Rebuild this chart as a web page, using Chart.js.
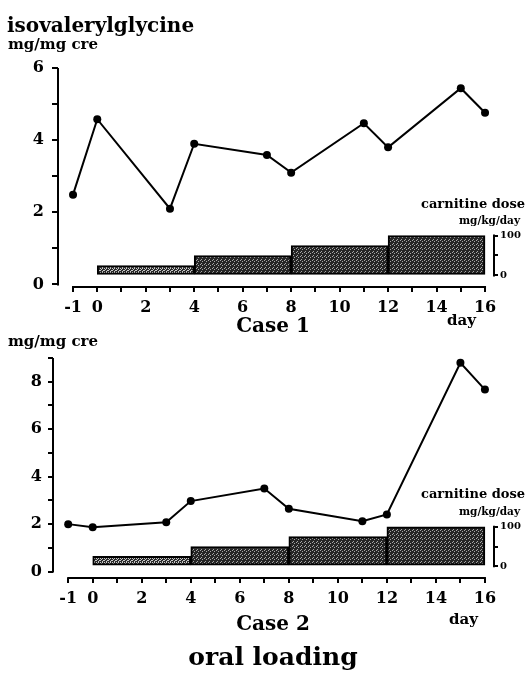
<!DOCTYPE html>
<html>
<head>
<meta charset="utf-8">
<script src="https://cdn.jsdelivr.net/npm/chart.js@4.4.1/dist/chart.umd.min.js"></script>
<style>
  body { margin: 0; background: #fff; }
  #page { position: relative; width: 528px; height: 680px; overflow: hidden; font-family: 'DejaVu Serif', serif; font-weight: bold; color: #000; }
  canvas { position: absolute; left: 0; }
  .t { position: absolute; line-height: 1; white-space: nowrap; }
  .c { transform: translateX(-50%); }
</style>
</head>
<body>
<div id="page">
  <canvas id="case1" width="528" height="330" style="top:0"></canvas>
  <canvas id="case2" width="528" height="350" style="top:330px"></canvas>

  <div class="t" style="left:7px; top:15px; font-size:20px">isovalerylglycine</div>
  <div class="t" style="left:8px; top:37px; font-size:15px">mg/mg cre</div>
  <div class="t" style="left:421px; top:197px; font-size:13px">carnitine dose</div>
  <div class="t" style="left:459px; top:215px; font-size:10.5px">mg/kg/day</div>
  <div class="t c" style="left:273px; top:315px; font-size:20px">Case 1</div>
  <div class="t" style="left:447px; top:313px; font-size:15px">day</div>

  <div class="t" style="left:8px; top:334px; font-size:15px">mg/mg cre</div>
  <div class="t" style="left:421px; top:487px; font-size:13px">carnitine dose</div>
  <div class="t" style="left:459px; top:506px; font-size:10.5px">mg/kg/day</div>
  <div class="t c" style="left:273px; top:613px; font-size:20px">Case 2</div>
  <div class="t" style="left:449px; top:612px; font-size:15px">day</div>

  <div class="t c" style="left:273px; top:644px; font-size:25px">oral loading</div>
</div>
<script>
// urine isovalerylglycine (mg/mg creatinine) by day
const days = [-1, 0, 3, 4, 7, 8, 11, 12, 15, 16];
const case1Ivg = [2.49, 4.58, 2.10, 3.90, 3.59, 3.10, 4.47, 3.80, 5.44, 4.76];
const case2Ivg = [2.00, 1.87, 2.08, 2.97, 3.50, 2.65, 2.12, 2.41, 8.80, 7.67];

// carnitine dose periods (mg/kg/day)
const doseStart = [0, 4, 8, 12];
const doseEnd = [4, 8, 12, 16];
const case1Dose = [25, 50, 75, 100];
const case2Dose = [25, 50, 75, 100];

const dayTicks = [-1, 0, 1, 2, 3, 4, 5, 6, 7, 8, 9, 10, 11, 12, 13, 14, 15, 16];
const dayLabels = [-1, 0, 2, 4, 6, 8, 10, 12, 14, 16];
const doseTicks = [0, 50, 100];
const doseLabels = [0, 100];

Chart.defaults.font.family = "'DejaVu Serif', serif";
Chart.defaults.font.weight = 'bold';
Chart.defaults.color = '#000';

function stipple(dark, light, spots) {
    const c = document.createElement('canvas');
    c.width = 4; c.height = 4;
    const g = c.getContext('2d');
    g.fillStyle = dark;
    g.fillRect(0, 0, 4, 4);
    g.fillStyle = light;
    spots.forEach(([a, b]) => g.fillRect(a, b, 1, 1));
    return g.createPattern(c, 'repeat');
}
const lightFill = stipple('#2a2a2a', '#c8c8c8', [[0, 0], [2, 0], [1, 1], [3, 2], [0, 2], [2, 3]]);
const darkFill = stipple('#262626', '#a8a8a8', [[0, 0], [2, 1], [1, 3]]);

// axis lines are drawn only over the used range, like the original
const axisLines = {
    id: 'axisLines',
    afterDraw(chart) {
        const { ctx, chartArea, scales } = chart;
        const x = scales.x, y = scales.y, y2 = scales.y2;
        ctx.save();
        ctx.strokeStyle = '#000';
        ctx.lineWidth = 2;
        ctx.beginPath();
        ctx.moveTo(chartArea.left, y.getPixelForValue(0) + 1);
        ctx.lineTo(chartArea.left, y.getPixelForValue(y.max));
        ctx.moveTo(x.getPixelForValue(dayTicks[0]) - 1, chartArea.bottom);
        ctx.lineTo(x.getPixelForValue(dayTicks[dayTicks.length - 1]) + 1, chartArea.bottom);
        ctx.moveTo(chartArea.right, y2.getPixelForValue(0) + 1);
        ctx.lineTo(chartArea.right, y2.getPixelForValue(100) - 1);
        ctx.stroke();
        ctx.restore();
    }
};

function makeCase(id, ivg, dose, opt) {
    const yTicks = [];
    for (let v = 0; v <= opt.yMax; v++) yTicks.push(v);

    new Chart(document.getElementById(id), {
        type: 'line',
        data: {
            datasets: [{
                type: 'line',
                data: days.map((d, i) => ({ x: d, y: ivg[i] })),
                borderColor: '#000',
                borderWidth: 2,
                pointRadius: 4,
                pointBackgroundColor: '#000',
                pointBorderWidth: 0,
                tension: 0,
                order: 0
            }, {
                type: 'bar',
                xAxisID: 'xb',
                yAxisID: 'y2',
                data: doseStart.map((s, i) => ({ x: (s + doseEnd[i]) / 2, y: dose[i] })),
                backgroundColor: [lightFill, darkFill, darkFill, darkFill],
                borderColor: '#000',
                borderWidth: 2,
                borderSkipped: false,
                grouped: false,
                barPercentage: 1,
                categoryPercentage: 1,
                order: 1
            }]
        },
        options: {
            responsive: false,
            animation: false,
            layout: { padding: opt.padding },
            plugins: { legend: { display: false }, tooltip: { enabled: false } },
            scales: {
                x: {
                    type: 'linear',
                    min: -1.62,
                    max: 16.37,
                    afterBuildTicks: s => { s.ticks = dayTicks.map(v => ({ value: v })); },
                    afterFit: s => { s.height = 30; },
                    border: { display: false },
                    grid: { drawOnChartArea: false, color: '#000', lineWidth: 2, tickLength: 5 },
                    ticks: {
                        autoSkip: false,
                        maxRotation: 0,
                        padding: 6,
                        font: { size: 16 },
                        callback: v => dayLabels.includes(v) ? String(v) : ''
                    }
                },
                // invisible day axis for the dose bars, ticked at the period edges
                xb: {
                    type: 'linear',
                    position: 'bottom',
                    offset: false,
                    min: -1.62,
                    max: 16.37,
                    afterBuildTicks: s => { s.ticks = doseStart.concat([doseEnd[doseEnd.length - 1]]).map(v => ({ value: v })); },
                    afterFit: s => { s.height = 0; },
                    border: { display: false },
                    grid: { display: false, offset: false },
                    ticks: { display: false }
                },
                y: {
                    position: 'left',
                    min: opt.yMin,
                    max: opt.yMax,
                    afterBuildTicks: s => { s.ticks = yTicks.map(v => ({ value: v })); },
                    afterFit: s => { s.width = opt.left; },
                    border: { display: false },
                    grid: { drawOnChartArea: false, color: '#000', lineWidth: 2, tickLength: opt.yTickLen },
                    ticks: {
                        padding: opt.yPad,
                        font: { size: 16 },
                        callback: v => v % 2 === 0 ? String(v) : ''
                    }
                },
                y2: {
                    position: 'right',
                    min: opt.y2Min,
                    max: opt.y2Max,
                    afterBuildTicks: s => { s.ticks = doseTicks.map(v => ({ value: v })); },
                    afterFit: s => { s.width = 34; },
                    border: { display: false },
                    grid: { drawOnChartArea: false, color: '#000', lineWidth: 2, tickLength: 4 },
                    ticks: {
                        padding: 2,
                        font: { size: 10 },
                        callback: v => doseLabels.includes(v) ? String(v) : ''
                    }
                }
            }
        },
        plugins: [axisLines]
    });
}

makeCase('case1', case1Ivg, case1Dose, {
    yMin: -0.07, yMax: 6, y2Min: -29, y2Max: 520,
    left: 58, yTickLen: 6, yPad: 8,
    padding: { top: 68, bottom: 13, left: 0, right: 0 }
});
makeCase('case2', case2Ivg, case2Dose, {
    yMin: -0.27, yMax: 9, y2Min: -30, y2Max: 529,
    left: 53, yTickLen: 5, yPad: 6,
    padding: { top: 28, bottom: 72, left: 0, right: 0 }
});
</script>
</body>
</html>
